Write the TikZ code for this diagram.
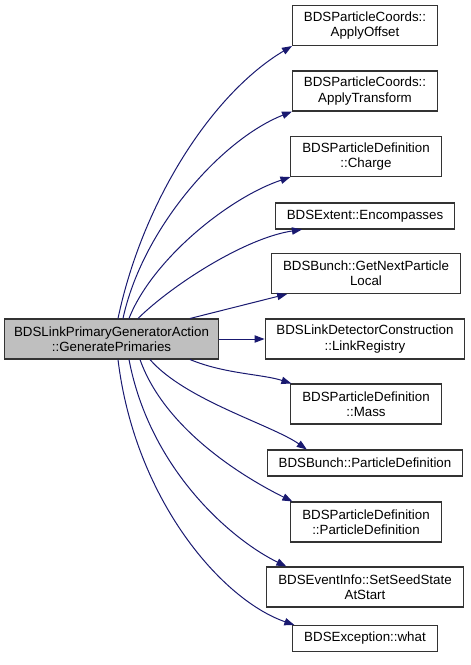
\documentclass[tikz,border=0pt]{standalone}
\usepackage{fontspec}
\setmainfont{Liberation Sans}
\usepackage{xcolor}
\usepackage{tikz}
\usetikzlibrary{shapes,arrows.meta,positioning,calc}
\definecolor{edgeblue}{HTML}{191970}
\definecolor{callergray}{HTML}{BFBFBF}
\definecolor{boxline}{HTML}{333333}

\begin{document}
\begin{tikzpicture}[
    x=0.75pt, y=-0.75pt,
    func/.style={rectangle, draw=boxline, fill=white, text=black, align=center,
                 font=\fontsize{10}{11.5}\selectfont, inner xsep=8.5pt, inner ysep=2pt, line width=0.8pt},
    twoline/.style={func, minimum height=30pt},
    oneline/.style={func, minimum height=19.5pt},
    caller/.style={twoline, fill=callergray, inner xsep=7.5pt},
    call/.style={draw=edgeblue, line width=0.75pt, -{Triangle[length=7.5pt,width=5.5pt]}}
]
    \useasboundingbox (0,0) rectangle (471,665);

    % Caller
    \node[caller] (generate) at (111.5,339) {BDSLinkPrimaryGeneratorAction\\::GeneratePrimaries};

    % Callees
    \node[twoline] (offset) at (365,25.5) {BDSParticleCoords::\\ApplyOffset};
    \node[twoline] (transform) at (365,91) {BDSParticleCoords::\\ApplyTransform};
    \node[twoline] (charge) at (366,156.5) {BDSParticleDefinition\\::Charge};
    \node[oneline] (encompasses) at (365,216) {BDSExtent::Encompasses};
    \node[twoline] (getnext) at (366,273.5) {BDSBunch::GetNextParticle\\Local};
    \node[twoline] (registry) at (365,339) {BDSLinkDetectorConstruction\\::LinkRegistry};
    \node[twoline] (mass) at (366,404) {BDSParticleDefinition\\::Mass};
    \node[oneline] (bunchpd) at (365,463) {BDSBunch::ParticleDefinition};
    \node[twoline] (partdef) at (366,522) {BDSParticleDefinition\\::ParticleDefinition};
    \node[twoline] (seedstate) at (365,587) {BDSEventInfo::SetSeedState\\AtStart};
    \node[oneline] (what) at (365,638.5) {BDSException::what};

    % Calls
    \draw[call] ($(generate.north)+(6.5,0)$) .. controls (143,200) and (213,93) .. (offset.south west);
    \draw[call] ($(generate.north)+(11.5,0)$) .. controls (142,230) and (220,140) .. (transform.south west);
    \draw[call] ($(generate.north)+(17.5,0)$) .. controls (152,260) and (228,198) .. (charge.south west);
    \draw[call] ($(generate.north)+(26.5,0)$) .. controls (172,285) and (245,238) .. ($(encompasses.south west)+(27,0)$);
    \draw[call] ($(generate.north)+(78.5,0)$) -- ($(getnext.south west)+(16,0)$);
    \draw[call] (generate.east) -- (registry.west);
    \draw[call] ($(generate.south)+(78.5,0)$) .. controls (225,374) and (262,374) .. ($(mass.north west)+(1,0)$);
    \draw[call] ($(generate.south)+(38.5,0)$) .. controls (185,400) and (272,425) .. ($(bunchpd.north west)+(40,0)$);
    \draw[call] ($(generate.south)+(28.5,0)$) .. controls (165,430) and (245,478) .. ($(partdef.north west)+(2,0)$);
    \draw[call] ($(generate.south)+(17.5,0)$) .. controls (150,470) and (232,540) .. ($(seedstate.north west)+(20,0)$);
    \draw[call] ($(generate.south)+(6.5,0)$) .. controls (135,500) and (222,600) .. ($(what.north west)+(2,0)$);
\end{tikzpicture}
\end{document}
